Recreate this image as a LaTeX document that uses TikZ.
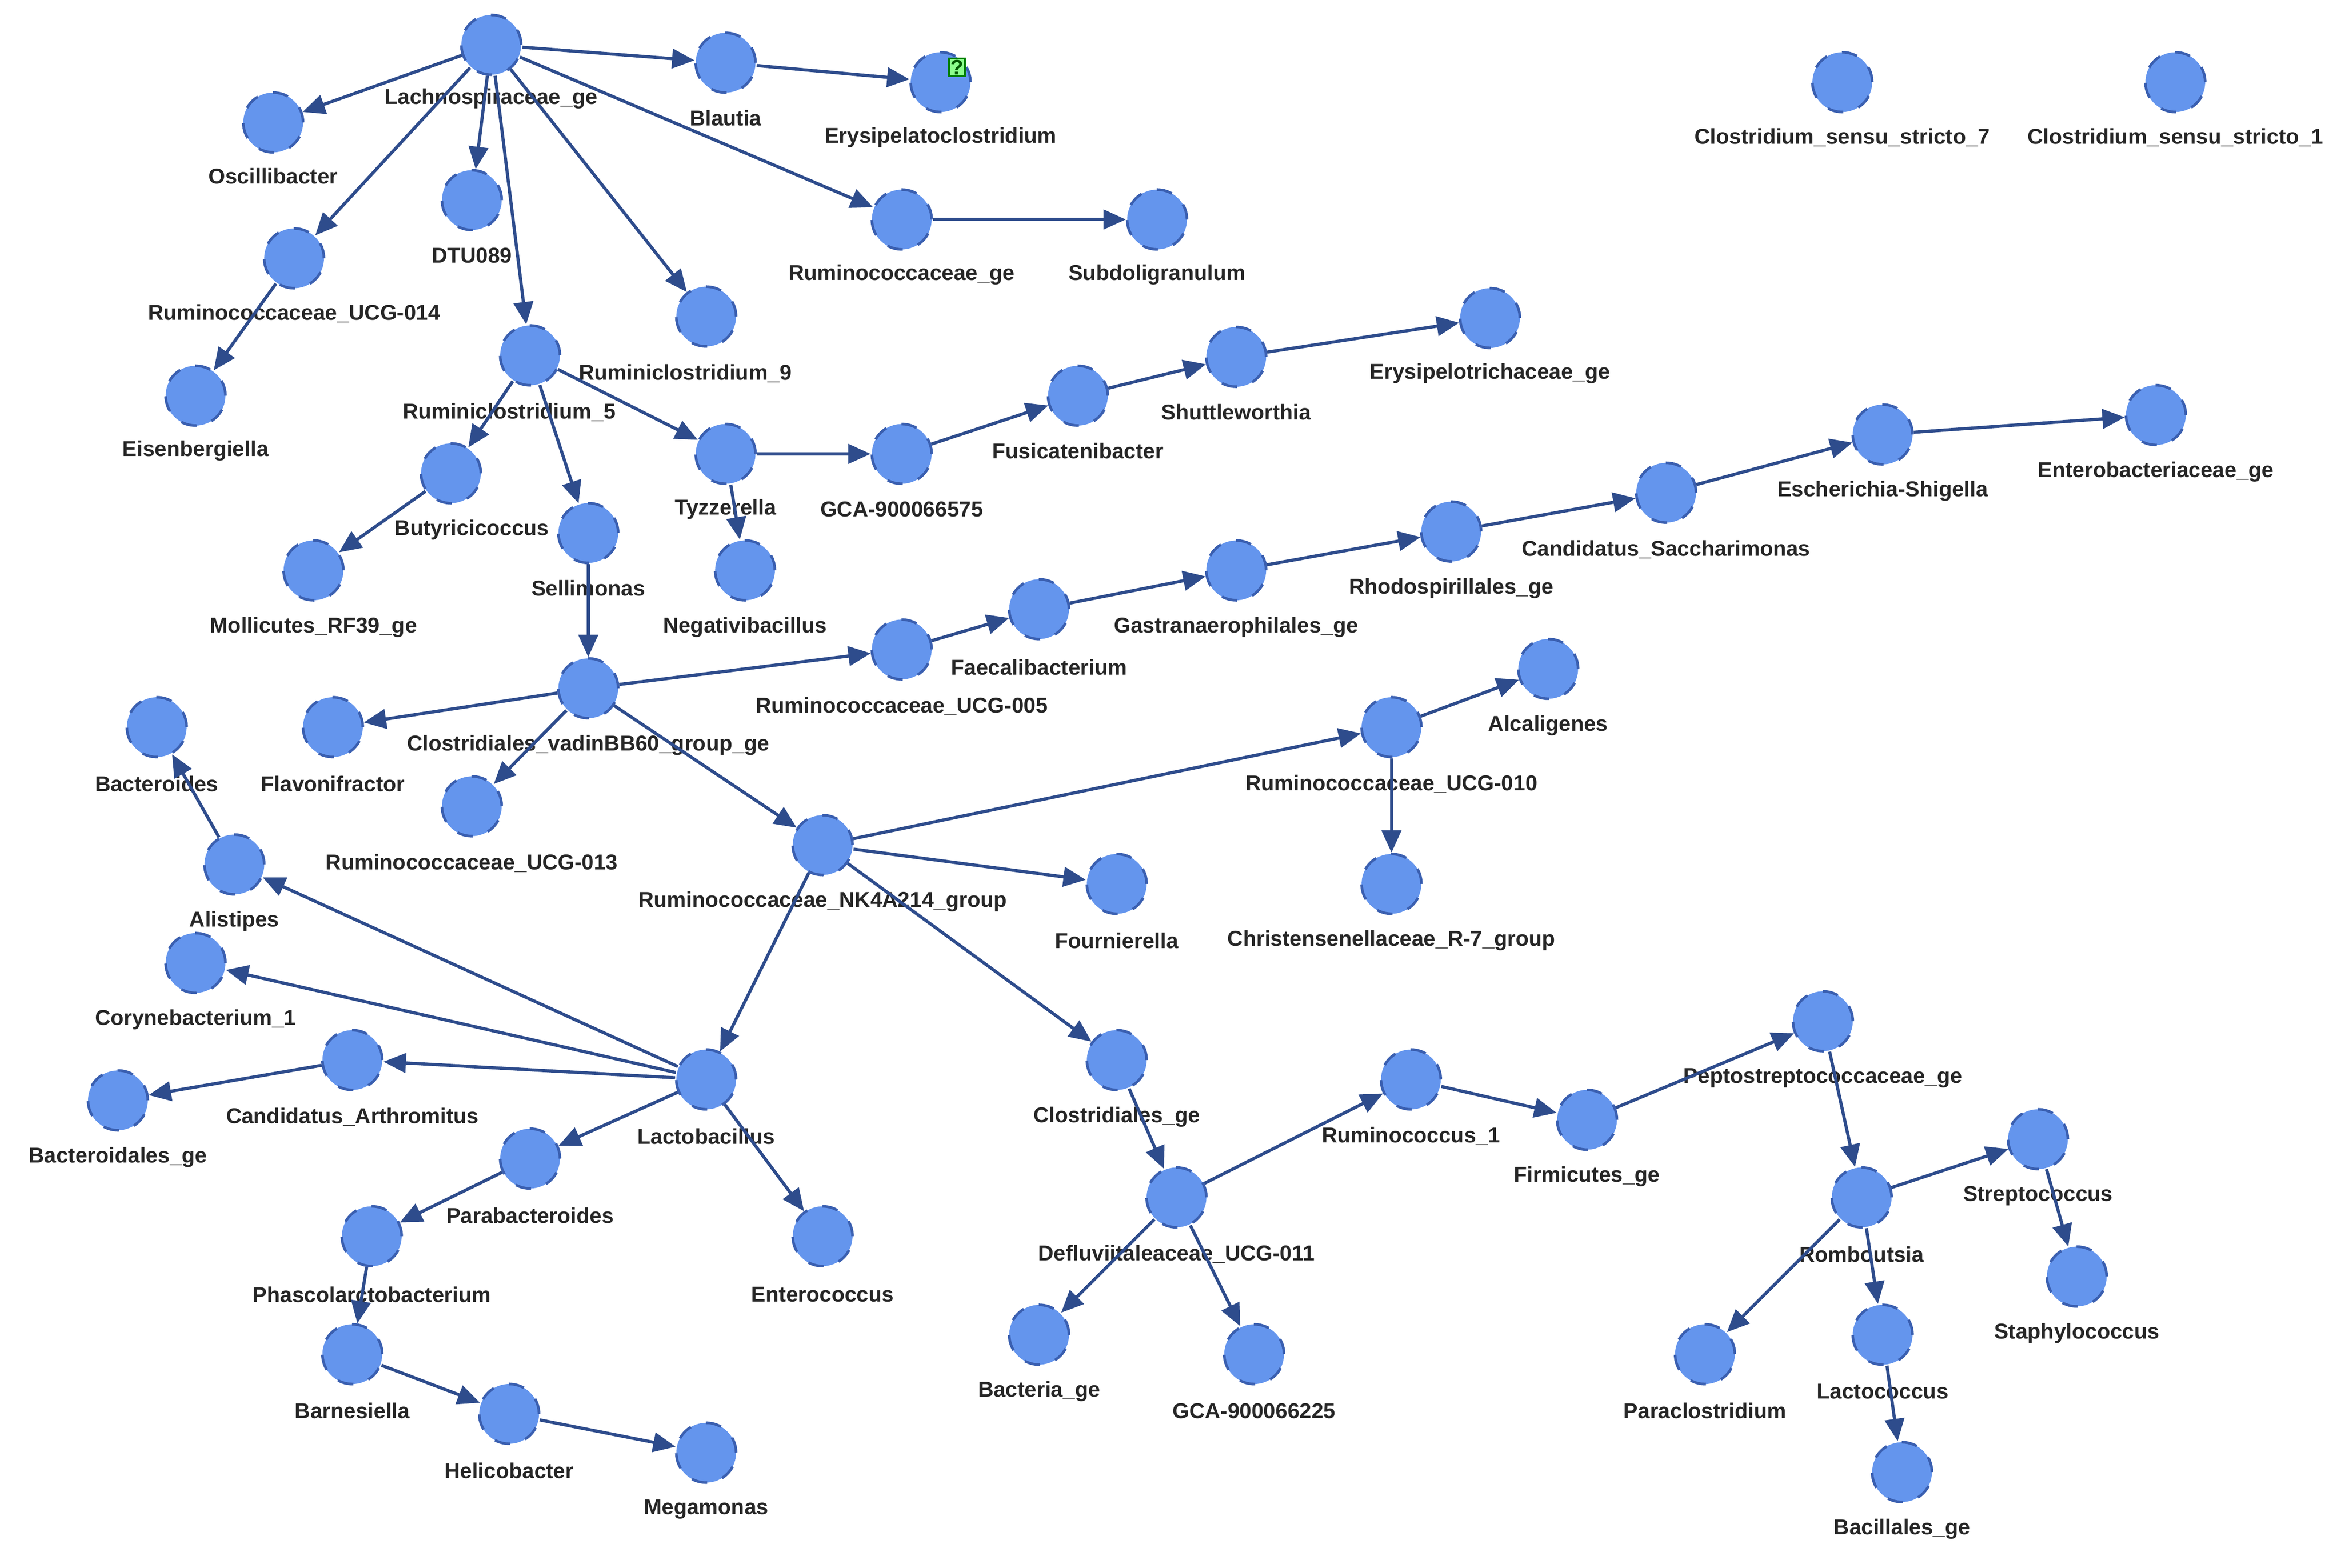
\documentclass[tikz,border=0pt]{standalone}
\usepackage{fontspec}
\setmainfont{Liberation Sans}
\usetikzlibrary{arrows.meta}
\definecolor{nfill}{HTML}{6495ED}
\definecolor{nline}{HTML}{3A5FB0}
\definecolor{ecol}{HTML}{2E4C8C}
\tikzset{
 nd/.style={circle,minimum size=0.4cm,inner sep=0pt,fill=nfill,draw=nline,dashed,line width=0.5pt},
 lab/.style={font=\fontsize{4.1}{5}\selectfont\bfseries,inner sep=0pt,text=black!85},
 edge/.style={draw=ecol,line width=0.6pt,-{Triangle[length=0.15cm,width=0.13cm]}}
}
\newcommand\nn[6]{\node[nd] (#1) at (#2,#3) {}; \node[lab] (#1-l) at (#5,#6) {#4};}
\begin{document}
\begin{tikzpicture}[x=0.01cm,y=-0.01cm]
\useasboundingbox (0,0) rectangle (1568,1050);
\nn{lach}{329}{30}{Lachnospiraceae\_ge}{329}{66}
\nn{blau}{486}{42}{Blautia}{486}{79}
\nn{eryc}{630}{55}{Erysipelatoclostridium}{630}{92}
\node[fill=green!45!white,draw=green!50!black,line width=0.3pt,inner sep=0.3pt,font=\fontsize{4}{4}\selectfont\bfseries,text=green!35!black] (q) at (641,45) {?};
\nn{osci}{183}{82}{Oscillibacter}{183}{118}
\nn{dtu}{316}{134}{DTU089}{316}{171}
\nn{u014}{197}{173}{Ruminococcaceae\_UCG-014}{197}{210}
\nn{rge}{604}{147}{Ruminococcaceae\_ge}{604}{184}
\nn{subd}{775}{147}{Subdoligranulum}{775}{184}
\nn{r9}{473}{212}{Ruminiclostridium\_9}{459}{250}
\nn{eise}{131}{265}{Eisenbergiella}{131}{302}
\nn{r5}{355}{238}{Ruminiclostridium\_5}{341}{276}
\nn{eryt}{998}{213}{Erysipelotrichaceae\_ge}{998}{250}
\nn{shut}{828}{239}{Shuttleworthia}{828}{276}
\nn{fusi}{722}{265}{Fusicatenibacter}{722}{302}
\nn{tyzz}{486}{304}{Tyzzerella}{486}{341}
\nn{g575}{604}{304}{GCA-900066575}{604}{341}
\nn{buty}{302}{317}{Butyricicoccus}{316}{355}
\nn{sell}{394}{357}{Sellimonas}{394}{394}
\nn{moll}{210}{382}{Mollicutes\_RF39\_ge}{210}{420}
\nn{nega}{499}{382}{Negativibacillus}{499}{420}
\nn{entb}{1444}{278}{Enterobacteriaceae\_ge}{1444}{316}
\nn{esch}{1261}{291}{Escherichia-Shigella}{1261}{329}
\nn{sacc}{1116}{330}{Candidatus\_Saccharimonas}{1116}{368}
\nn{rhod}{972}{356}{Rhodospirillales\_ge}{972}{394}
\nn{gast}{828}{382}{Gastranaerophilales\_ge}{828}{420}
\nn{faec}{696}{408}{Faecalibacterium}{696}{447}
\nn{u005}{604}{435}{Ruminococcaceae\_UCG-005}{604}{473}
\nn{vadi}{394}{461}{Clostridiales\_vadinBB60\_group\_ge}{394}{499}
\nn{flav}{223}{487}{Flavonifractor}{223}{525}
\nn{bact}{105}{487}{Bacteroides}{105}{525}
\nn{alca}{1037}{448}{Alcaligenes}{1037}{486}
\nn{u010}{932}{487}{Ruminococcaceae\_UCG-010}{932}{525}
\nn{u013}{316}{540}{Ruminococcaceae\_UCG-013}{316}{578}
\nn{nk4}{551}{566}{Ruminococcaceae\_NK4A214\_group}{551}{604}
\nn{alis}{157}{579}{Alistipes}{157}{617}
\nn{four}{748}{592}{Fournierella}{748}{630}
\nn{chri}{932}{592}{Christensenellaceae\_R-7\_group}{932}{630}
\nn{cory}{131}{645}{Corynebacterium\_1}{131}{683}
\nn{pept}{1221}{684}{Peptostreptococcaceae\_ge}{1221}{722}
\nn{arth}{236}{710}{Candidatus\_Arthromitus}{236}{748}
\nn{cge}{748}{710}{Clostridiales\_ge}{748}{748}
\nn{bdge}{79}{737}{Bacteroidales\_ge}{79}{775}
\nn{lact}{473}{723}{Lactobacillus}{473}{761}
\nn{rc1}{945}{723}{Ruminococcus\_1}{945}{761}
\nn{firm}{1063}{750}{Firmicutes\_ge}{1063}{788}
\nn{strp}{1365}{763}{Streptococcus}{1365}{801}
\nn{para}{355}{776}{Parabacteroides}{355}{814}
\nn{defl}{788}{802}{Defluviitaleaceae\_UCG-011}{788}{840}
\nn{romb}{1247}{802}{Romboutsia}{1247}{840}
\nn{phas}{249}{828}{Phascolarctobacterium}{249}{867}
\nn{ente}{551}{828}{Enterococcus}{551}{867}
\nn{stap}{1391}{855}{Staphylococcus}{1391}{893}
\nn{barn}{236}{907}{Barnesiella}{236}{945}
\nn{bage}{696}{894}{Bacteria\_ge}{696}{932}
\nn{g225}{840}{907}{GCA-900066225}{840}{945}
\nn{parc}{1142}{907}{Paraclostridium}{1142}{945}
\nn{lcoc}{1261}{894}{Lactococcus}{1261}{932}
\nn{heli}{341}{947}{Helicobacter}{341}{985}
\nn{mega}{473}{973}{Megamonas}{473}{1011}
\nn{bage2}{1274}{986}{Bacillales\_ge}{1274}{1024}
\nn{cs7}{1234}{55}{Clostridium\_sensu\_stricto\_7}{1234}{92}
\nn{cs1}{1457}{55}{Clostridium\_sensu\_stricto\_1}{1457}{92}
\foreach \a/\b in {lach/blau,blau/eryc,lach/osci,lach/dtu,lach/u014,lach/rge,rge/subd,lach/r9,lach/r5,
 u014/eise,r5/buty,r5/sell,r5/tyzz,tyzz/g575,tyzz/nega,g575/fusi,fusi/shut,shut/eryt,buty/moll,
 sell/vadi,vadi/flav,vadi/u005,u005/faec,faec/gast,gast/rhod,rhod/sacc,sacc/esch,esch/entb,
 vadi/u013,vadi/nk4,nk4/u010,u010/alca,u010/chri,nk4/four,nk4/lact,nk4/cge,alis/bact,lact/alis,
 lact/cory,lact/arth,arth/bdge,lact/para,lact/ente,para/phas,phas/barn,barn/heli,heli/mega,
 cge/defl,defl/rc1,defl/bage,defl/g225,rc1/firm,firm/pept,pept/romb,romb/strp,strp/stap,
 romb/parc,romb/lcoc,lcoc/bage2}
 \draw[edge] (\a) -- (\b);
\end{tikzpicture}
\end{document}
